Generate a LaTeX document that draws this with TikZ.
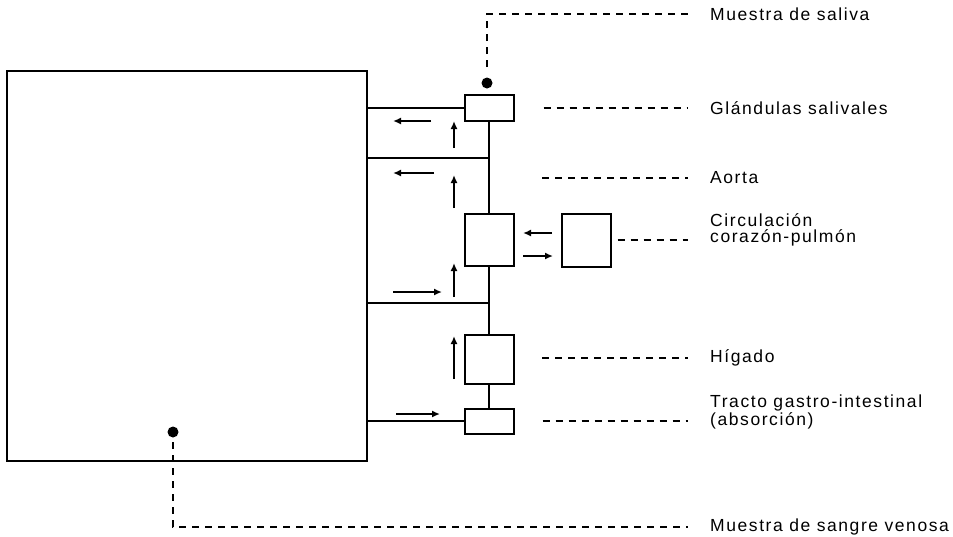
\documentclass[tikz,border=0pt]{standalone}
\usepackage{fontspec}
\setmainfont{Liberation Sans}[LetterSpace=9]
\usetikzlibrary{arrows.meta}

\tikzset{
  organ/.style={draw, line width=2pt, inner sep=0pt, minimum width=49pt},
  vessel/.style={line width=1.9pt},
  flow/.style={line width=1.6pt, -{Latex[length=8pt,width=7pt]}},
  leader/.style={line width=1.7pt, dash pattern=on 7pt off 6pt},
  probe/.style={circle, fill, inner sep=0pt, minimum size=11pt},
  lbl/.style={anchor=west, inner sep=0pt, align=left, font=\fontsize{17.5}{16}\selectfont}
}

\begin{document}
\begin{tikzpicture}[x=1pt,y=-1pt]
  \useasboundingbox (0,0) rectangle (953,536);
  % Body compartment
  \node[draw, line width=2pt, inner sep=0pt, minimum width=360pt, minimum height=390pt] (body) at (187,266) {};
  % Organs along the aorta
  \node[organ, minimum height=26pt] (sal) at (489,108) {};
  \node[organ, minimum height=52pt] (heart) at (489,240) {};
  \node[organ, minimum height=53pt] (lung) at (586,240) {};
  \node[organ, minimum height=49pt] (liver) at (489,359) {};
  \node[organ, minimum height=25pt] (gi) at (489,421) {};
  % Aorta and branches to the body
  \coordinate (br1) at (489,158);
  \coordinate (br2) at (489,303);
  \draw[vessel] (sal.south) -- (heart.north);
  \draw[vessel] (heart.south) -- (liver.north);
  \draw[vessel] (liver.south) -- (gi.north);
  \draw[vessel] (sal.west) -- (sal.west -| body.east);
  \draw[vessel] (br1) -- (br1 -| body.east);
  \draw[vessel] (br2) -- (br2 -| body.east);
  \draw[vessel] (gi.west) -- (gi.west -| body.east);
  % Flow arrows
  \foreach \xa/\ya/\xb/\yb in {431/121/393/121, 454/148/454/121,
      434/173/393/173, 454/208/454/175, 393/292/442/292, 454/297/454/263,
      454/379/454/336, 396/414/440/414, 552/233/523/233, 523/256/553/256}
    \draw[flow] (\xa,\ya) -- (\xb,\yb);
  % Sampling points
  \node[probe] (salDot) at (487,83) {};
  \node[probe] (venDot) at (173,432) {};
  % Labels
  \node[lbl] (saliva) at (710,14) {Muestra de saliva};
  \node[lbl] (glan) at (710,108) {Glándulas salivales};
  \node[lbl] (aorta) at (710,178) {Aorta};
  \node[lbl] (circ) at (710,230) {Circulación\\corazón-pulmón};
  \node[lbl] (higado) at (710,358) {Hígado};
  \node[lbl] (tracto) at (710,412) {Tracto gastro-intestinal\\(absorción)};
  \node[lbl] (sangre) at (710,527) {Muestra de sangre venosa};
  % Leaders
  \draw[leader] ([yshift=16pt]salDot.center) |- ([xshift=-22pt]saliva.west);
  \draw[leader, shorten <=29pt] (sal.east) -- ([xshift=-22pt]sal.east -| glan.west);
  \draw[leader] ([xshift=-168pt]aorta.west) -- ([xshift=-22pt]aorta.west);
  \draw[leader, shorten <=6pt] (lung.east) -- ([xshift=-22pt]lung.east -| circ.west);
  \draw[leader] ([xshift=-168pt]higado.west) -- ([xshift=-22pt]higado.west);
  \draw[leader, shorten <=28pt] (gi.east) -- ([xshift=-22pt]gi.east -| tracto.west);
  \draw[leader] ([yshift=-10pt]venDot.center) |- ([xshift=-22pt]sangre.west);
\end{tikzpicture}
\end{document}
